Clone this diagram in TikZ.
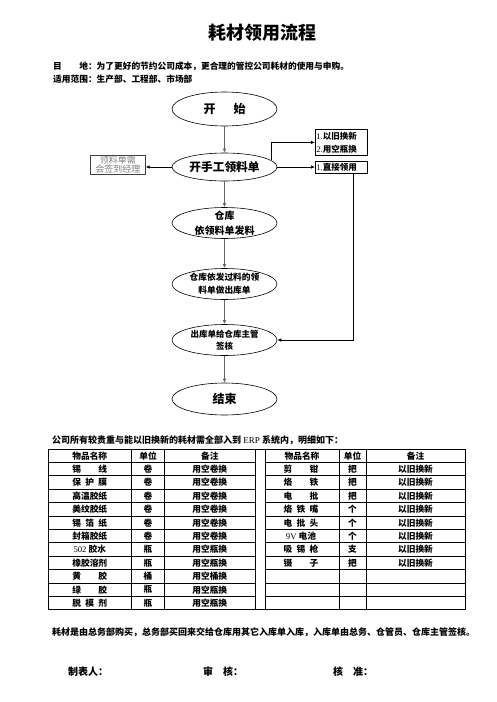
\documentclass[tikz,border=0pt]{standalone}
\usepackage{fontspec}
\setmainfont{Noto Sans CJK SC}
\newfontfamily\lat{Liberation Serif}
\usetikzlibrary{shapes.geometric,arrows.meta,calc}
\newcommand\myfs[2]{\fontsize{#1}{#2}\selectfont}
\newcommand\latn[1]{{\lat\mdseries #1}}
\begin{document}
\begin{tikzpicture}[x=1pt,y=-1pt,
  flow/.style={draw, ellipse, minimum width=105pt, minimum height=31pt, inner sep=0pt, line width=0.6pt},
  ftext/.style={align=center, inner sep=0pt},
  conn/.style={draw=black!60, line width=0.9pt, -{Latex[length=4pt,width=3.5pt]}},
  side/.style={draw=black, line width=0.7pt, -{Latex[length=4pt,width=3.5pt]}},
  sbox/.style={draw, line width=0.8pt, inner sep=0pt, anchor=north west},
  cell/.style={font=\myfs{8.7}{8.7}\bfseries, inner sep=0pt},
  tline/.style={line width=0.8pt}
]
\path[use as bounding box] (0,0) rectangle (496,702);

% header texts
\node[font=\myfs{18}{18}\bfseries, inner sep=0pt] (title) at (262,33) {耗材领用流程};
\node[font=\myfs{8.7}{8.7}\bfseries, inner sep=0pt, anchor=west] (purpose) at (53,66) {目　　地：为了更好的节约公司成本，更合理的管控公司耗材的使用与申购。};
\node[font=\myfs{8.7}{8.7}\bfseries, inner sep=0pt, anchor=west] (scope) at (53,79) {适用范围：生产部、工程部、市场部};

% flow ellipses
\node[flow, minimum height=34pt] (start) at (224.5,109) {};
\node[ftext, font=\myfs{12}{12}\bfseries] (tstart) at (start) {开\hspace{1.5em}始};
\node[flow, minimum height=28pt] (kai) at (224.5,167) {};
\node[ftext, font=\myfs{11.7}{12}\bfseries] (tkai) at (kai) {开手工领料单};
\node[flow] (ck) at (224.5,223) {};
\node[ftext, font=\myfs{10}{14.5}\bfseries] (tck) at (ck) {仓库\\依领料单发料};
\node[flow] (ck2) at (224.5,284) {};
\node[ftext, font=\myfs{8.7}{13}\bfseries] (tck2) at (ck2) {仓库依发过料的领\\料单做出库单};
\node[flow] (ck3) at (224.5,340) {};
\node[ftext, font=\myfs{8.5}{12}\bfseries] (tck3) at (ck3) {出库单给仓库主管\\签核};
\node[flow, minimum height=32pt] (end) at (224.5,399) {};
\node[ftext, font=\myfs{12}{12}\bfseries] (tend) at (end) {结束};

% side boxes
\node[sbox, minimum width=52pt, minimum height=26pt, text width=50pt, inner xsep=1pt, align=left, font=\myfs{8.5}{13}\bfseries] (b1) at (315,129) {\latn{1.}以旧换新\\\latn{2.}用空瓶换};
\node[sbox, minimum width=52pt, minimum height=12pt, text width=50pt, inner xsep=1pt, align=left, font=\myfs{8.5}{8.5}\bfseries] (b2) at (315,161) {\latn{1.}直接领用};
\node[sbox, draw=black!75, line width=0.6pt, minimum width=55pt, minimum height=18pt, inner ysep=0.8pt, align=center, text=black!50, font=\myfs{9}{9}] (g) at (90,155) {领料单需\\会签到经理};

% connectors
\draw[conn] (start) -- (kai);
\draw[conn] (kai) -- (ck);
\draw[conn] (ck) -- (ck2);
\draw[conn] (ck2) -- (ck3);
\draw[conn] (ck3) -- (end);
\draw[side] (kai.west) -- (kai.west -| g.east);
\draw[side] (kai.8) |- (b1.west);
\draw[side] (kai.east) -- (kai.east -| b2.west);
\coordinate (vx) at (353,0);
\draw[side] (b2.south -| vx) |- (ck3.east);

% table intro
\node[font=\myfs{9}{9}\bfseries, inner sep=0pt, anchor=west] (intro) at (52,440) {公司所有较贵重与能以旧换新的耗材需全部入到\latn{ ERP }系统内，明细如下：};

% table grid
\foreach \k in {0,...,12} {
  \draw[tline] (48,{449+\k*13.4}) -- (255,{449+\k*13.4});
  \draw[tline] (265,{449+\k*13.4}) -- (465,{449+\k*13.4});
}
\draw[tline] (255,449) -- (265,449);
\draw[tline] (255,{449+12*13.4}) -- (265,{449+12*13.4});
\foreach \x in {48,131.5,164.5,255,265,339,366,465}
  \draw[tline] (\x,449) -- (\x,{449+12*13.4});

% headers
\node[cell] (lh1) at (89.75,{449+0.5*13.4}) {物品名称};
\node[cell] (lh2) at (148,{449+0.5*13.4}) {单位};
\node[cell] (lh3) at (209.75,{449+0.5*13.4}) {备注};
\node[cell] (rh1) at (302,{449+0.5*13.4}) {物品名称};
\node[cell] (rh2) at (352.5,{449+0.5*13.4}) {单位};
\node[cell] (rh3) at (415.5,{449+0.5*13.4}) {备注};

% left rows
\foreach \nm/\un/\rk [count=\i] in {
  锡\hspace{2em}线/卷/用空卷换,
  保\hspace{0.5em}护\hspace{0.5em}膜/卷/用空卷换,
  高温胶纸/卷/用空卷换,
  美纹胶纸/卷/用空卷换,
  锡\hspace{0.5em}箔\hspace{0.5em}纸/卷/用空卷换,
  封箱胶纸/卷/用空卷换,
  \latn{502} 胶水/瓶/用空瓶换,
  橡胶溶剂/瓶/用空瓶换,
  黄\hspace{2em}胶/桶/用空桶换,
  绿\hspace{2em}胶/瓶/用空瓶换,
  脱\hspace{0.5em}模\hspace{0.5em}剂/瓶/用空瓶换} {
  \node[cell] (ln\i) at (89.75,{449+(\i+0.5)*13.4}) {\nm};
  \node[cell] (lu\i) at (148,{449+(\i+0.5)*13.4}) {\un};
  \node[cell] (lr\i) at (209.75,{449+(\i+0.5)*13.4}) {\rk};
}

% right rows
\foreach \nm/\un [count=\i] in {
  剪\hspace{2em}钳/把,
  烙\hspace{2em}铁/把,
  电\hspace{2em}批/把,
  烙\hspace{0.5em}铁\hspace{0.5em}嘴/个,
  电\hspace{0.5em}批\hspace{0.5em}头/个,
  \latn{9V} 电池/个,
  吸\hspace{0.5em}锡\hspace{0.5em}枪/支,
  镊\hspace{2em}子/把} {
  \node[cell] (rn\i) at (301,{449+(\i+0.5)*13.4}) {\nm};
  \node[cell] (ru\i) at (352.5,{449+(\i+0.5)*13.4}) {\un};
  \node[cell] (rr\i) at (415.5,{449+(\i+0.5)*13.4}) {以旧换新};
}

% footer
\node[font=\myfs{9}{9}\bfseries, inner sep=0pt, anchor=west] (foot) at (52,632) {耗材是由总务部购买，总务部买回来交给仓库用其它入库单入库，入库单由总务、仓管员、仓库主管签核。};
\node[font=\myfs{10}{10}\bfseries, inner sep=0pt, anchor=west] (s1) at (68,672) {制表人：};
\node[font=\myfs{10}{10}\bfseries, inner sep=0pt, anchor=west] (s2) at (203,672) {审　核：};
\node[font=\myfs{10}{10}\bfseries, inner sep=0pt, anchor=west] (s3) at (333,672) {核　准：};
\end{tikzpicture}
\end{document}
